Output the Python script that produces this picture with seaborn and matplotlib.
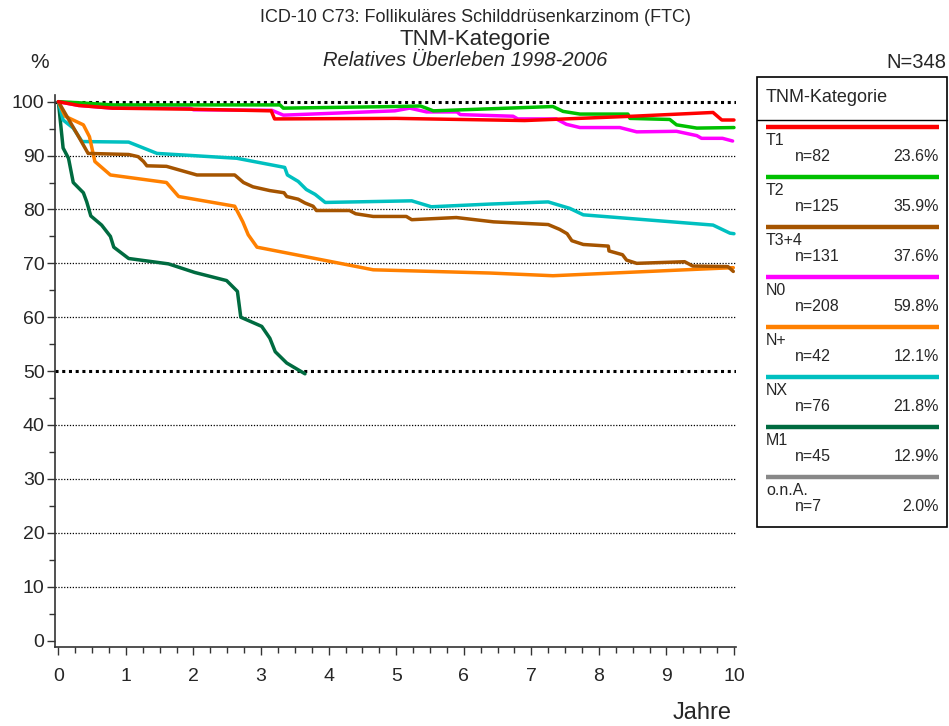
import matplotlib

matplotlib.use("Agg")
import matplotlib.pyplot as plt
import numpy as np
import pandas as pd
import seaborn as sns
from matplotlib.patches import Rectangle

# survival curves (years, relative survival %)
t1_x = [0, 0.3, 0.8, 2.0, 3.15, 3.2, 5.0, 6.9, 8.5, 9.69, 9.82, 10.0]
t1_y = [100, 99.3, 98.8, 98.6, 98.3, 96.8, 96.9, 96.5, 97.3, 98.0, 96.6, 96.6]

t2_x = [0, 0.3, 0.8, 3.28, 3.33, 4.98, 5.36, 5.55, 7.32, 7.47, 7.72, 8.43, 8.46, 9.05, 9.15, 9.45, 10.0]
t2_y = [100, 99.8, 99.4, 99.4, 98.8, 99.1, 99.2, 98.3, 99.1, 98.2, 97.7, 97.7, 96.9, 96.7, 95.7, 95.1, 95.2]

t34_x = [0, 0.3, 0.44, 1.04, 1.18, 1.26, 1.31, 1.6, 2.05, 2.61, 2.74, 2.88, 3.13, 3.34, 3.38,
         3.55, 3.65, 3.77, 3.82, 4.31, 4.40, 4.66, 5.15, 5.23, 5.89, 6.44, 7.25, 7.42, 7.53,
         7.6, 7.77, 8.14, 8.15, 8.35, 8.41, 8.56, 9.27, 9.39, 9.91, 9.99]
t34_y = [100, 93.5, 90.4, 90.2, 89.8, 88.9, 88.1, 88.0, 86.4, 86.4, 85.0, 84.2, 83.5, 83.1, 82.4,
         81.9, 81.2, 80.6, 79.8, 79.8, 79.2, 78.7, 78.7, 78.1, 78.5, 77.7, 77.2, 76.3, 75.5,
         74.2, 73.5, 73.2, 72.3, 71.6, 70.6, 70.0, 70.3, 69.5, 69.4, 68.5]

n0_x = [0, 0.3, 0.8, 1.95, 2.0, 3.16, 3.33, 4.98, 5.2, 5.45, 5.9, 5.95, 6.73, 6.8, 7.37, 7.52,
        7.72, 8.31, 8.56, 9.15, 9.45, 9.52, 9.83, 9.98]
n0_y = [100, 99.3, 98.8, 98.8, 98.5, 98.4, 97.5, 98.3, 98.8, 98.1, 98.1, 97.6, 97.3, 96.8, 96.8, 95.8,
        95.2, 95.2, 94.4, 94.5, 93.7, 93.2, 93.2, 92.7]

np_x = [0, 0.1, 0.37, 0.46, 0.54, 0.77, 1.6, 1.78, 2.61, 2.73, 2.81, 2.94, 4.66, 6.39, 7.32, 9.99]
np_y = [100, 97.3, 95.7, 93.5, 88.9, 86.4, 85.0, 82.4, 80.6, 77.7, 75.3, 73.0, 68.8, 68.2, 67.7, 69.2]

nx_x = [0, 0.07, 0.22, 0.35, 1.04, 1.46, 2.64, 3.35, 3.39, 3.55, 3.67, 3.8, 3.95, 5.23, 5.52,
        6.39, 7.25, 7.57, 7.77, 9.69, 9.94, 10.0]
nx_y = [100, 96.6, 95.1, 92.6, 92.5, 90.4, 89.5, 87.8, 86.4, 85.2, 83.7, 82.8, 81.3, 81.6, 80.5,
        81.0, 81.4, 80.2, 79.0, 77.1, 75.6, 75.5]

m1_x = [0, 0.07, 0.15, 0.22, 0.37, 0.42, 0.48, 0.64, 0.77, 0.82, 1.04, 1.63, 2.02, 2.49, 2.65,
        2.70, 3.01, 3.13, 3.21, 3.38, 3.65]
m1_y = [100, 91.4, 89.5, 85.0, 83.1, 81.4, 78.8, 77.1, 75.0, 73.0, 70.9, 69.9, 68.3, 66.8, 64.8,
        60.0, 58.3, 56.1, 53.6, 51.5, 49.5]

ona_x = [0, 0]
ona_y = [100, 100]

# legend contents
groups = ["T1", "T2", "T3+4", "N0", "N+", "NX", "M1", "o.n.A."]
counts = [82, 125, 131, 208, 42, 76, 45, 7]
shares = ["23.6%", "35.9%", "37.6%", "59.8%", "12.1%", "21.8%", "12.9%", "2.0%"]
colors = ["#ff0000", "#00c000", "#a55400", "#ff00ff", "#ff8000", "#00c0c0", "#006b40", "#888888"]

curves = {
    "T1": (t1_x, t1_y), "T2": (t2_x, t2_y), "T3+4": (t34_x, t34_y), "N0": (n0_x, n0_y),
    "N+": (np_x, np_y), "NX": (nx_x, nx_y), "M1": (m1_x, m1_y), "o.n.A.": (ona_x, ona_y),
}


def main():
    sns.set_style("white")
    plt.rcParams["font.family"] = ["Liberation Sans", "DejaVu Sans"]

    rows = []
    for g in groups:
        xs, ys = curves[g]
        for i, (x, y) in enumerate(zip(xs, ys)):
            rows.append({"group": g, "Jahre": x, "pct": y, "i": i})
    df = pd.DataFrame(rows)

    W, H = 949, 726
    fig = plt.figure(figsize=(W / 100, H / 100), dpi=100)
    ax = fig.add_axes([55 / W, 1 - 647 / H, (736 - 55) / W, (647 - 95) / H])

    for y in range(10, 101, 10):
        thick = y in (50, 100)
        ax.axhline(y, color="black", linestyle=(0, (1, 1.2)) if thick else (0, (1, 1.3)),
                   linewidth=2.2 if thick else 0.9, zorder=1)

    palette = dict(zip(groups, colors))
    draw_order = ["o.n.A.", "M1", "NX", "N+", "T3+4", "N0", "T2", "T1"]
    for g in draw_order:
        sub = df[df["group"] == g]
        sns.lineplot(data=sub, x="Jahre", y="pct", color=palette[g], linewidth=2.5,
                     estimator=None, sort=False, ax=ax, legend=False, zorder=3)

    ax.set_xlim(-0.05, 10.03)
    ax.set_ylim(-1.2, 101.24)
    ax.set_xticks(np.arange(0, 11, 1))
    ax.set_xticks(np.arange(0, 10.01, 0.25), minor=True)
    ax.set_yticks(np.arange(0, 101, 10))
    ax.set_yticks(np.arange(0, 101, 5), minor=True)
    ax.tick_params(axis="both", which="major", direction="out", length=6, width=1,
                   color="#333333", labelsize=14, bottom=True, left=True)
    ax.tick_params(axis="both", which="minor", direction="out", length=4, width=1,
                   color="#333333", bottom=True, left=True)
    ax.tick_params(axis="x", which="major", pad=9)
    ax.tick_params(axis="y", which="major", pad=1.5)
    ax.set_xlabel("")
    ax.set_ylabel("")
    sns.despine(ax=ax)
    for s in ("left", "bottom"):
        ax.spines[s].set_color("#333333")
        ax.spines[s].set_linewidth(1.2)

    # titles
    fig.text(475 / W, 1 - 18 / H, "ICD-10 C73: Follikuläres Schilddrüsenkarzinom (FTC)",
             ha="center", va="center", fontsize=13)
    fig.text(475 / W, 1 - 40 / H, "TNM-Kategorie", ha="center", va="center", fontsize=16)
    fig.text(465 / W, 1 - 60 / H, "Relatives Überleben 1998-2006", ha="center", va="center",
             fontsize=14.5, style="italic")
    fig.text(40 / W, 1 - 63 / H, "%", ha="center", va="center", fontsize=15)
    fig.text(946 / W, 1 - 63 / H, "N=348", ha="right", va="center", fontsize=14.5)
    fig.text(702 / W, 1 - 713 / H, "Jahre", ha="center", va="center", fontsize=17)

    # legend box drawn in pixel space
    lg = fig.add_axes([0, 0, 1, 1], facecolor="none")
    lg.set_xlim(0, W)
    lg.set_ylim(H, 0)
    lg.axis("off")
    lg.add_patch(Rectangle((757, 77), 190, 450, fill=False, edgecolor="black", linewidth=1.2))
    lg.plot([757, 947], [119.5, 119.5], color="black", linewidth=1.0)
    lg.text(766, 97, "TNM-Kategorie", ha="left", va="center", fontsize=13)
    for i, g in enumerate(groups):
        y0 = 126.5 + 50 * i
        lg.plot([766, 939], [y0, y0], color=palette[g], linewidth=3.2, solid_capstyle="butt")
        lg.text(766, y0 + 14, g, ha="left", va="center", fontsize=11.5)
        lg.text(795, y0 + 30, f"n={counts[i]}", ha="left", va="center", fontsize=11.5)
        lg.text(939, y0 + 30, shares[i], ha="right", va="center", fontsize=11.5)

    fig.savefig("out.png", dpi=100)
    plt.close(fig)


if __name__ == "__main__":
    main()
